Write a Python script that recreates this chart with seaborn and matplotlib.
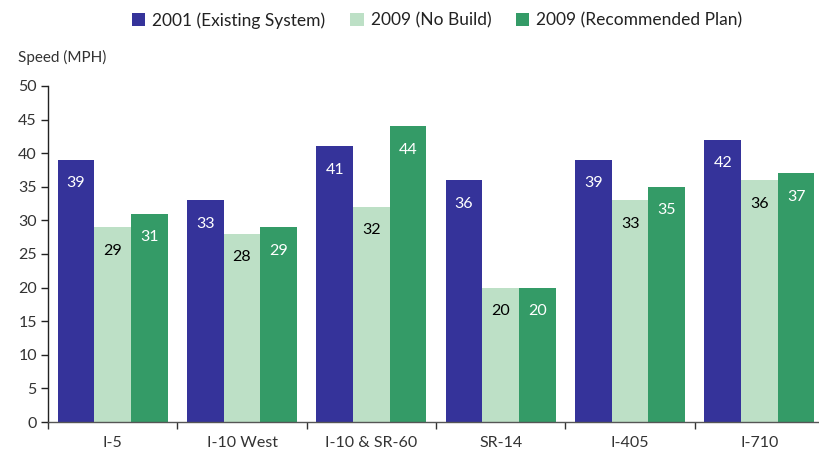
import matplotlib
matplotlib.use("Agg")
import matplotlib.pyplot as plt
import seaborn as sns
import pandas as pd
import numpy as np

categories = ["I-5", "I-10 West", "I-10 & SR-60", "SR-14", "I-405", "I-710"]
series_names = ["2001 (Existing System)", "2009 (No Build)", "2009 (Recommended Plan)"]
existing_2001 = [39, 33, 41, 36, 39, 42]
nobuild_2009 = [29, 28, 32, 20, 33, 36]
recommended_2009 = [31, 29, 44, 20, 35, 37]
y_ticks = [0, 5, 10, 15, 20, 25, 30, 35, 40, 45, 50]

colors = ["#35339A", "#BDE0C6", "#349B67"]
label_colors = ["white", "black", "white"]

sns.set_style("white")
plt.rcParams["font.family"] = ["Lato", "DejaVu Sans"]

rows = []
for s, vals in zip(series_names, [existing_2001, nobuild_2009, recommended_2009]):
    for c, v in zip(categories, vals):
        rows.append({"Route": c, "Series": s, "Speed": v})
df = pd.DataFrame(rows)

fig = plt.figure(figsize=(8.2, 4.53), dpi=100)
ax = fig.add_axes([0.0585, 0.0684, 0.9465, 0.742])
sns.barplot(data=df, x="Route", y="Speed", hue="Series", order=categories,
            hue_order=series_names, palette=colors, width=0.85, saturation=1,
            edgecolor="none", linewidth=0, ax=ax)

for cont, lc in zip(ax.containers, label_colors):
    ax.bar_label(cont, labels=[f"{int(b.get_height())}" for b in cont],
                 label_type="edge", padding=-22, color=lc, fontsize=11.5)

ax.set_ylim(0, 50)
ax.set_xlim(-0.5, len(categories) - 0.5)
ax.set_yticks(y_ticks)
ax.set_xlabel("")
ax.set_ylabel("")
for s in ["top", "right"]:
    ax.spines[s].set_visible(False)
ax.spines["left"].set_color("#222222")
ax.spines["bottom"].set_color("#555555")
ax.spines["left"].set_linewidth(1.0)
ax.spines["bottom"].set_linewidth(1.0)
ax.tick_params(axis="y", which="major", direction="out", length=5, width=1,
               color="#222222", labelsize=11.5, labelcolor="#333333", left=True, pad=3)
ax.tick_params(axis="x", which="major", length=0, labelsize=11.5, labelcolor="#333333", pad=10)
ax.set_xticks(np.arange(-0.5, len(categories), 1.0), minor=True)
ax.tick_params(axis="x", which="minor", direction="out", length=5, width=1, color="#333333", bottom=True)

fig.text(0.022, 0.873, "Speed (MPH)", fontsize=11, color="#333333", ha="left", va="center")

handles, labels = ax.get_legend_handles_labels()
ax.legend_.remove()
fig.legend(handles, labels, loc="center", bbox_to_anchor=(0.533, 0.955), ncol=3,
           frameon=False, fontsize=12.5, handlelength=0.8, handleheight=0.8,
           handletextpad=0.4, columnspacing=1.4, labelcolor="#222222")

fig.savefig("out.png", dpi=100)
